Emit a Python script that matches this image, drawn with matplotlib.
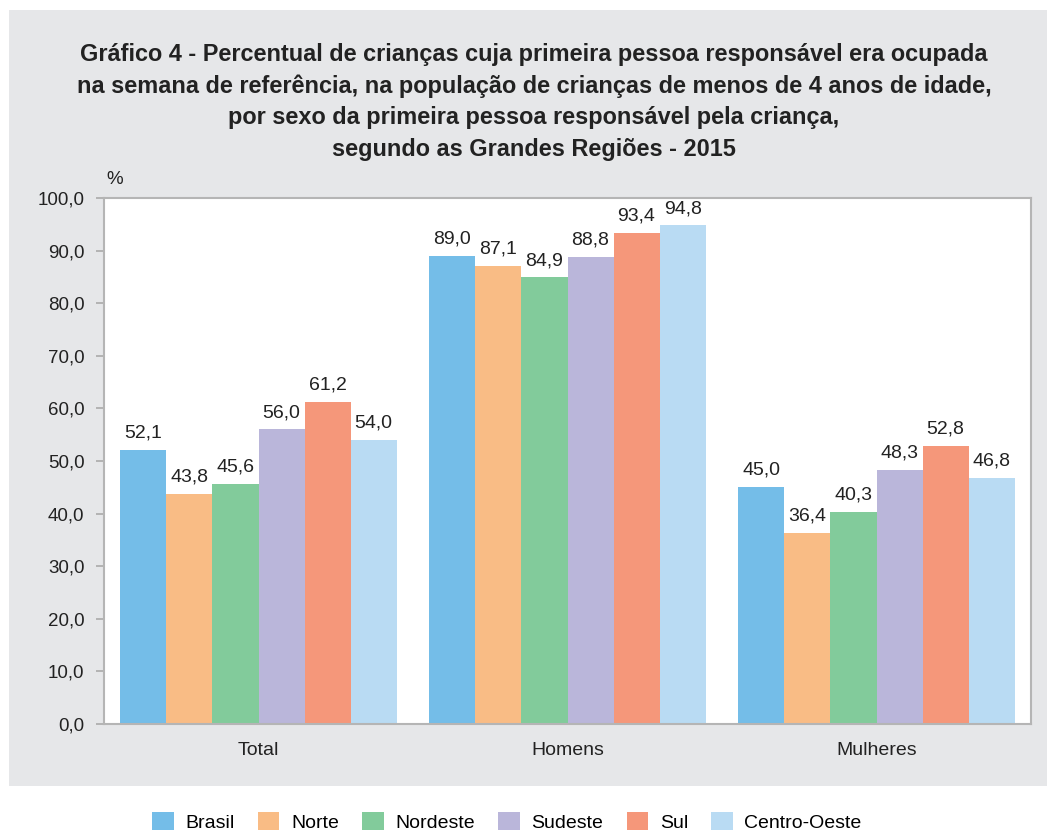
import matplotlib
matplotlib.use("Agg")
import matplotlib.pyplot as plt
from matplotlib.patches import Rectangle, Patch
import numpy as np

categories = ["Total", "Homens", "Mulheres"]
series_names = ["Brasil", "Norte", "Nordeste", "Sudeste", "Sul", "Centro-Oeste"]
brasil = [52.1, 89.0, 45.0]
norte = [43.8, 87.1, 36.4]
nordeste = [45.6, 84.9, 40.3]
sudeste = [56.0, 88.8, 48.3]
sul = [61.2, 93.4, 52.8]
centro_oeste = [54.0, 94.8, 46.8]
yticks = [0, 10, 20, 30, 40, 50, 60, 70, 80, 90, 100]

series = [brasil, norte, nordeste, sudeste, sul, centro_oeste]
colors = ["#74bde8", "#f9bc85", "#82cb9b", "#bab6da", "#f5977a", "#b9dbf3"]

plt.rcParams['font.family'] = ['Liberation Sans', 'DejaVu Sans']

W, H = 1051, 830
fig = plt.figure(figsize=(W / 100, H / 100), dpi=100)
fig.patch.set_facecolor("white")

# grey panel
fig.patches.append(Rectangle((9 / W, (H - 786) / H), (1047 - 9) / W, (786 - 10) / H,
                             transform=fig.transFigure, facecolor="#e6e7e9",
                             edgecolor="none", zorder=-10))

left, right, top, bottom = 104, 1031, 198, 724
ax = fig.add_axes([left / W, (H - bottom) / H, (right - left) / W, (bottom - top) / H])
ax.set_facecolor("white")
ax.set_zorder(1)

x = np.arange(len(categories))
bw = 0.149
n = len(series)
for i, (vals, col) in enumerate(zip(series, colors)):
    pos = x + (i - (n - 1) / 2) * bw
    ax.bar(pos, vals, width=bw, color=col, edgecolor="none", zorder=2, label=series_names[i])
    for xp, v in zip(pos, vals):
        ax.annotate(f"{v:.1f}".replace(".", ","), (xp, v), xytext=(0, 6),
                    textcoords="offset points", ha="center", va="bottom",
                    fontsize=14, color="#222222")

ax.set_xlim(-0.5, 2.5)
ax.set_ylim(0, 100)
ax.set_yticks(yticks)
ax.set_yticklabels([f"{t:.1f}".replace(".", ",") for t in yticks], fontsize=13.5, color="#222222")
ax.set_xticks(x)
ax.set_xticklabels(categories, fontsize=14, color="#222222")
ax.tick_params(axis="x", length=0, pad=13)
ax.tick_params(axis="y", length=6, width=1.2, color="#aaaaaa", pad=8)
for s in ax.spines.values():
    s.set_color("#b5b5b5")
    s.set_linewidth(1.5)

fig.text(106 / W, 1 - 180 / H, "%", fontsize=13.5, color="#222222", ha="left", va="center")

title = ("Gráfico 4 - Percentual de crianças cuja primeira pessoa responsável era ocupada\n"
         "na semana de referência, na população de crianças de menos de 4 anos de idade,\n"
         "por sexo da primeira pessoa responsável pela criança,\n"
         "segundo as Grandes Regiões - 2015")
fig.text(534 / W, 1 - 102 / H, title, fontsize=16.9, fontweight="bold", ha="center", va="center",
         color="#222222", linespacing=1.45)

handles = [Patch(facecolor=c, edgecolor="none") for c in colors]
fig.legend(handles, series_names, loc="center", bbox_to_anchor=(507 / W, 1 - 822 / H),
           ncol=6, frameon=False, fontsize=14, handlelength=1.1, handleheight=1.0,
           columnspacing=1.2, handletextpad=0.6)

fig.savefig("out.png", dpi=100)
